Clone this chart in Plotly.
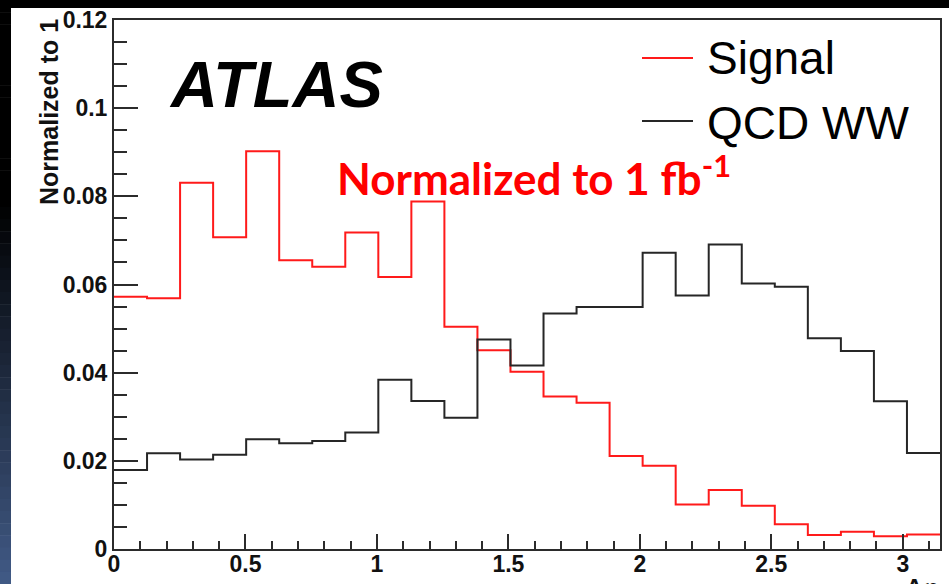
import numpy as np
import plotly.graph_objects as go

# Histogram contents (25 equal bins over 0..pi), normalised shapes
signal = [0.0572, 0.0569, 0.0831, 0.0707, 0.0902, 0.0655, 0.0640, 0.0718, 0.0617, 0.0788,
          0.0504, 0.0451, 0.0402, 0.0346, 0.0332, 0.0211, 0.0189, 0.0101, 0.0134, 0.0098,
          0.0056, 0.0032, 0.0039, 0.0029, 0.0033]
qcd_ww = [0.0179, 0.0217, 0.0203, 0.0214, 0.0249, 0.0240, 0.0245, 0.0264, 0.0384, 0.0336,
          0.0298, 0.0475, 0.0416, 0.0534, 0.0549, 0.0549, 0.0672, 0.0575, 0.0691, 0.0602,
          0.0595, 0.0478, 0.0449, 0.0335, 0.0218]
series_names = ["Signal", "QCD WW"]

x_tickvals = [0, 0.5, 1, 1.5, 2, 2.5, 3]
x_ticktext = ["0", "0.5", "1", "1.5", "2", "2.5", "3"]
y_tickvals = [0, 0.02, 0.04, 0.06, 0.08, 0.1, 0.12]
y_ticktext = ["0", "0.02", "0.04", "0.06", "0.08", "0.1", "0.12"]

n_bins = len(signal)
edges = np.linspace(0.0, np.pi, n_bins + 1)

W, H = 949, 584
ML, MR, MT, MB = 114, 9, 20, 35
PW, PH = W - ML - MR, H - MT - MB


def fx(p):
    return (p - ML) / PW


def fy(p):
    return (H - MB - p) / PH


AX = "#2b2b2b"
RED = "#ff1a1a"
BLK = "#262626"
TICKFONT = dict(family="Liberation Sans, Arial, sans-serif", size=23, color="#111", weight="bold")

fig = go.Figure()
for vals, color, name in [(signal, RED, series_names[0]), (qcd_ww, BLK, series_names[1])]:
    fig.add_trace(go.Scatter(
        x=edges, y=list(vals) + [vals[-1]], mode="lines", line_shape="hv",
        line=dict(color=color, width=2), name=name, showlegend=False, hoverinfo="skip"))

fig.update_xaxes(
    range=[0, np.pi], tickmode="array", tickvals=x_tickvals, ticktext=x_ticktext,
    ticks="inside", ticklen=15, tickwidth=2, tickcolor=AX, ticklabelstandoff=-7,
    minor=dict(tickmode="linear", tick0=0, dtick=0.1, ticks="inside", ticklen=8,
               tickwidth=2, tickcolor=AX),
    showline=True, linewidth=2, linecolor=AX, mirror=True, automargin=False,
    showgrid=False, zeroline=False, tickfont=TICKFONT)
fig.update_yaxes(
    range=[0, 0.12], tickmode="array", tickvals=y_tickvals, ticktext=y_ticktext,
    ticks="inside", ticklen=24, tickwidth=2, tickcolor=AX, automargin=False,
    minor=dict(tickmode="linear", tick0=0, dtick=0.005, ticks="inside", ticklen=13,
               tickwidth=2, tickcolor=AX),
    showline=True, linewidth=2, linecolor=AX, mirror=True,
    showgrid=False, zeroline=False, tickfont=TICKFONT)

shapes = []
# dark frame: top band and left strip fading from black to slate blue
shapes.append(dict(type="rect", xref="paper", yref="paper", x0=fx(0), x1=fx(W),
                   y0=fy(8), y1=fy(0), fillcolor="black", line_width=0, layer="above"))
n_strips = 48
top_black = 200
end_rgb = np.array([66, 91, 135])
for i in range(n_strips):
    p0 = i * H / n_strips
    p1 = (i + 1) * H / n_strips + 0.5
    mid = 0.5 * (p0 + p1)
    t = max(0.0, (mid - top_black) / (H - top_black))
    r, g, b = (end_rgb * t).astype(int)
    shapes.append(dict(type="rect", xref="paper", yref="paper", x0=fx(0), x1=fx(11),
                       y0=fy(p1), y1=fy(p0), fillcolor=f"rgb({r},{g},{b})",
                       line_width=0, layer="above"))
# legend line samples
for ypx, color in [(58, RED), (121, BLK)]:
    shapes.append(dict(type="line", xref="paper", yref="paper", x0=fx(642), x1=fx(693),
                       y0=fy(ypx), y1=fy(ypx), line=dict(color=color, width=2)))

annotations = [
    dict(text="<b><i>ATLAS</i></b>", x=fx(276), y=fy(85), xanchor="center", yanchor="middle",
         font=dict(family="Liberation Sans, Arial, sans-serif", size=65, color="black")),
    dict(text="<b>Normalized to 1 fb<sup>-1</sup></b>", x=fx(335), y=fy(175), xanchor="left",
         yanchor="middle", font=dict(family="Lato, sans-serif", size=44, color="#ff0000")),
    dict(text=series_names[0], x=fx(705), y=fy(58), xanchor="left", yanchor="middle",
         font=dict(family="Liberation Sans, Arial, sans-serif", size=46, color="black")),
    dict(text=series_names[1], x=fx(705), y=fy(123), xanchor="left", yanchor="middle",
         font=dict(family="Liberation Sans, Arial, sans-serif", size=46, color="black")),
    dict(text="<b>Normalized to 1</b>", x=fx(49), y=fy(17), xanchor="center", yanchor="top",
         textangle=-90,
         font=dict(family="Liberation Sans, Arial, sans-serif", size=25, color="#111")),
    dict(text="<b>Δφ</b>", x=fx(904), y=fy(573), xanchor="left", yanchor="top",
         font=dict(family="Liberation Sans, Arial, sans-serif", size=23, color="#111")),
]
for a in annotations:
    a.update(xref="paper", yref="paper", showarrow=False)

fig.update_layout(
    width=W, height=H, margin=dict(l=ML, r=MR, t=MT, b=MB, pad=0, autoexpand=False),
    paper_bgcolor="white", plot_bgcolor="white",
    shapes=shapes, annotations=annotations, showlegend=False)

fig.write_html("out.html", config={"displayModeBar": False})
